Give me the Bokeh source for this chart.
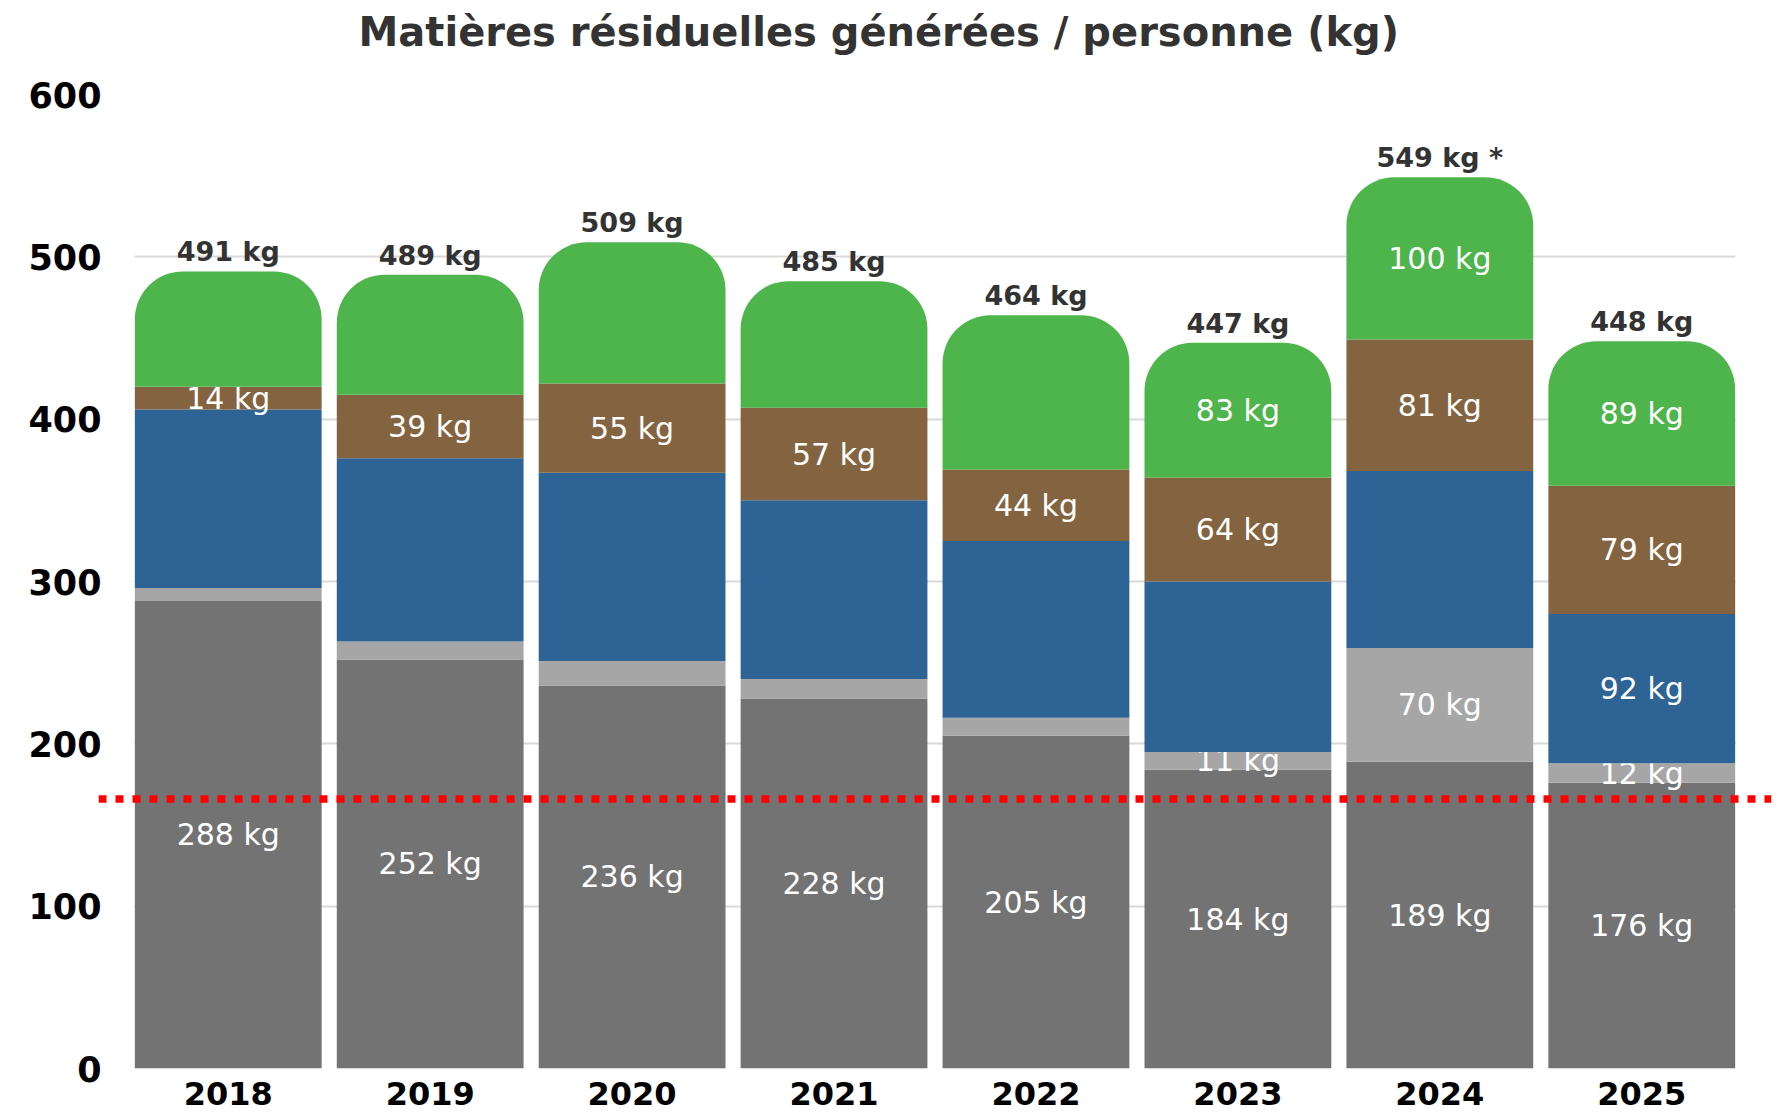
import numpy as np
from bokeh.plotting import figure
from bokeh.models import ColumnDataSource, FactorRange, Span, Grid, SingleIntervalTicker, Title
from bokeh.core.properties import value
from bokeh.embed import file_html
from bokeh.resources import INLINE

# ---- data ----
years = ["2018", "2019", "2020", "2021", "2022", "2023", "2024", "2025"]
ordures = [288, 252, 236, 228, 205, 184, 189, 176]          # dark grey
encombrants = [8, 11, 15, 12, 11, 11, 70, 12]                # light grey
recyclables = [110, 113, 116, 110, 109, 105, 109, 92]        # blue
organiques = [14, 39, 55, 57, 44, 64, 81, 79]                # brown
ecocentre = [71, 74, 87, 78, 95, 83, 100, 89]                # green
totaux = [491, 489, 509, 485, 464, 447, 549, 448]
total_labels = ["491 kg", "489 kg", "509 kg", "485 kg", "464 kg", "447 kg", "549 kg *", "448 kg"]
cible = 166

show_ordures = [True] * 8
show_encombrants = [False, False, False, False, False, True, True, True]
show_recyclables = [False] * 7 + [True]
show_organiques = [True] * 8
show_ecocentre = [False] * 5 + [True] * 3

series = [
    (ordures, "#737373", show_ordures),
    (encombrants, "#A6A6A6", show_encombrants),
    (recyclables, "#2E6395", show_recyclables),
    (organiques, "#846440", show_organiques),
    (ecocentre, "#4DB54B", show_ecocentre),
]

FONT = "DejaVu Sans"
BAR_W = 0.925

p = figure(
    x_range=FactorRange(factors=years, range_padding=0.1425, range_padding_units="absolute"),
    y_range=(0, 600),
    width=1791, height=1120,
    output_backend="svg", toolbar_location=None,
    min_border_left=98, min_border_right=20, min_border_top=94, min_border_bottom=52,
)
p.outline_line_color = None
p.background_fill_color = "white"
p.border_fill_color = "white"

# title (outermost) + invisible spacer between title and frame
p.title.text = "Matières résiduelles générées / personne (kg)"
p.title.text_font = FONT
p.title.text_font_size = "40px"
p.title.text_font_style = "bold"
p.title.text_color = "#333333"
p.title.align = "left"
p.title.offset = 260
p.title.standoff = 10
p.add_layout(Title(text=" ", text_font_size="4px", standoff=28), "above")

# axes
p.yaxis.ticker = SingleIntervalTicker(interval=100)
for ax in (p.xaxis, p.yaxis):
    ax.axis_line_color = None
    ax.major_tick_line_color = None
    ax.minor_tick_line_color = None
    ax.major_tick_out = 0
    ax.major_tick_in = 0
    ax.major_label_text_font = FONT
    ax.major_label_text_font_style = "bold"
    ax.major_label_text_color = "#000000"
p.yaxis.major_label_text_font_size = "35px"
p.xaxis.major_label_text_font_size = "32px"
p.yaxis.major_label_standoff = -7
p.xaxis.major_label_standoff = 13

p.xgrid.visible = False
p.ygrid.grid_line_color = "#D9D9D9"
p.ygrid.grid_line_width = 2
if "cross_bounds" in Grid.properties():
    p.ygrid.cross_bounds = (0.5 - BAR_W / 2, len(years) - 0.5 + BAR_W / 2)

# bars
bottom = np.zeros(len(years))
for i, (vals, color, show) in enumerate(series):
    vals = np.array(vals, dtype=float)
    top = bottom + vals
    src = ColumnDataSource(dict(
        x=years, bottom=bottom.copy(), top=top.copy(),
        mid=(bottom + top) / 2,
        label=[f"{int(v)} kg" if s else "" for v, s in zip(vals, show)],
    ))
    kw = {}
    if i == len(series) - 1:
        kw["border_radius"] = (48, 48, 0, 0)
    p.vbar(x="x", bottom="bottom", top="top", width=BAR_W, source=src,
           fill_color=color, line_color=None, **kw)
    p.text(x="x", y="mid", text="label", source=src,
           text_font=value(FONT), text_font_size="30px", text_color="white",
           text_align="center", text_baseline="middle")
    bottom = top

tot_src = ColumnDataSource(dict(x=years, y=totaux, label=total_labels))
p.text(x="x", y="y", text="label", source=tot_src, y_offset=-4,
       text_font=value(FONT), text_font_size="27px", text_font_style="bold",
       text_color="#333333", text_align="center", text_baseline="bottom")

# target line
p.add_layout(Span(location=cible, dimension="width", line_color="#FF0000",
                  line_width=7.5, line_dash="8 9"))

open("out.html", "w", encoding="utf-8").write(file_html(p, INLINE))
